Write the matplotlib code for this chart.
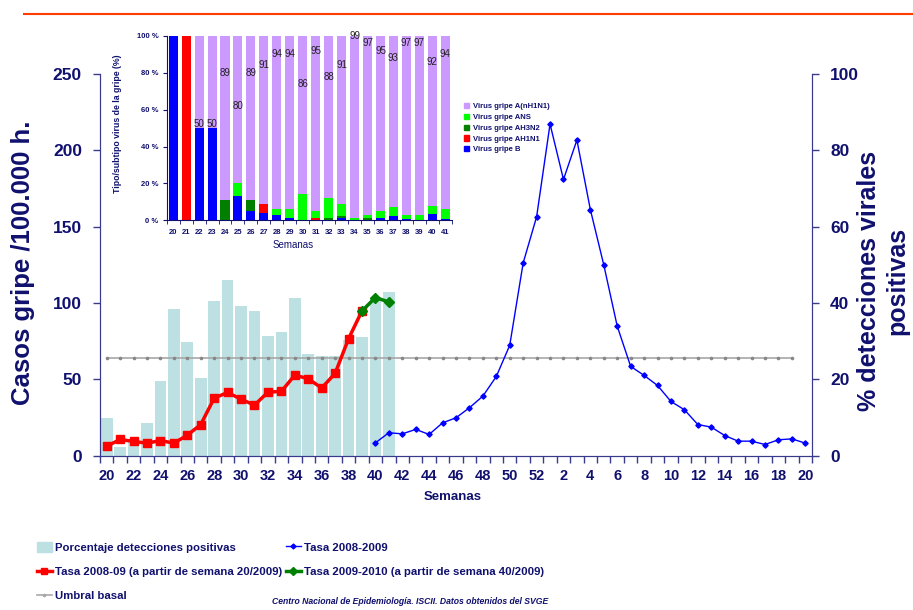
import matplotlib
matplotlib.use('Agg')
import matplotlib.pyplot as plt
import matplotlib.patches as mpatches
from matplotlib.lines import Line2D
import numpy as np

plt.rcParams['font.family'] = ['Liberation Sans', 'DejaVu Sans']
NAVY = '#10106e'
SPINE = '#3a3a8c'

# main x axis: weeks 20..52 (2008) then 1..20 (2009)
weeks = list(range(20, 53)) + list(range(1, 21))

# % positive detections (right axis), weeks 20-41
pct_positive = [9.8, 2.2, 4.3, 8.5, 19.4, 38.5, 29.7, 20.3, 40.6, 46.0, 39.3,
                38.0, 31.4, 32.3, 41.4, 26.5, 26.2, 26.2, 30.2, 31.0, 41.0, 42.9]

# rate 2008-09 from week 20/2009 (weeks 20-39)
rate_2009 = [6.1, 10.5, 9.2, 8.1, 9.8, 8.1, 13.3, 20.3, 37.6, 41.3, 36.9, 33.0,
             41.5, 42.0, 52.7, 50.3, 44.2, 53.8, 76.5, 94.7]

# rate 2009-2010 (weeks 39-41)
rate_2010 = [94.7, 103.5, 100.6]

# rate 2008-2009 season (weeks 40..52, 1..20)
rate_season = [8.3, 14.9, 14.2, 17.1, 13.8, 21.4, 24.7, 31.3, 38.9, 51.8, 72.2,
               126.2, 156.4, 217.2, 180.9, 206.7, 161.2, 124.9, 84.8, 58.4, 52.5,
               45.9, 35.4, 30.0, 20.3, 18.6, 13.1, 9.4, 9.4, 7.2, 10.3, 10.9, 8.1]

umbral = 64.0

# inset: virus type / subtype (%), weeks 20-41
inset_weeks = list(range(20, 42))
virus_b = [100, 0, 50, 50, 0, 13, 5, 4, 3, 1, 0, 0, 0, 1.5, 0, 0, 1, 2.5, 0.5, 0, 3.5, 0.5]
virus_ah1n1 = [0, 100, 0, 0, 0, 0, 0, 5, 0, 0, 0, 1, 0, 0, 0, 0, 0, 0, 0, 0, 0, 0]
virus_ah3n2 = [0, 0, 0, 0, 11, 0, 6, 0, 0, 0, 0, 0, 1, 1, 0, 1.5, 0, 0, 0, 0, 0, 0]
virus_ans = [0, 0, 0, 0, 0, 7, 0, 0, 3, 5, 14, 4, 11, 6.5, 1, 1.5, 4, 4.5, 2.5, 3, 4.5, 5.5]
virus_pandemic = [0, 0, 50, 50, 89, 80, 89, 91, 94, 94, 86, 95, 88, 91, 99, 97, 95, 93,
                  97, 97, 92, 94]

fig = plt.figure(figsize=(9.13, 6.10), dpi=100)

# ---- main chart ----
x = np.arange(len(weeks))
ax = fig.add_axes([100 / 913, 1 - 455.5 / 610, 712 / 913, 381.5 / 610])
ax.bar(x[:len(pct_positive)], pct_positive, width=0.87, color='#bde0e3', edgecolor='none')
ax.set_ylim(0, 100)
ax.set_xlim(-0.5, len(weeks) - 0.5)

ax2 = ax.twinx()
ax2.set_ylim(0, 250)
n_red = len(rate_2009)
ax2.plot(x[:52], [umbral] * 52, color='#a8a8a8', lw=1.2, marker='o', ms=1.6,
         mfc='#888888', mec='#888888')
ax2.plot(x[20:], rate_season, color='#0000ff', lw=1.0, marker='D', ms=2.7)
ax2.plot(x[:n_red], rate_2009, color='#ff0000', lw=2.5, marker='s', ms=6)
ax2.plot(x[n_red - 1:n_red - 1 + len(rate_2010)], rate_2010, color='#008000', lw=2.5,
         marker='D', ms=5)

ax.yaxis.tick_right()
ax2.yaxis.tick_left()
for a in (ax, ax2):
    a.spines['top'].set_visible(False)
    for s in ('left', 'right', 'bottom'):
        a.spines[s].set_color(SPINE)

ax.set_yticks(range(0, 101, 20))
ax2.set_yticks(range(0, 251, 50))
ax.tick_params(axis='y', length=5, width=1, color=SPINE, pad=8, labelsize=12.5,
               labelcolor=NAVY)
ax2.tick_params(axis='y', length=5, width=1, color=SPINE, pad=8, labelsize=12.5,
                labelcolor=NAVY)
for lab in ax.get_yticklabels() + ax2.get_yticklabels():
    lab.set_fontweight('bold')

ax.set_xticks(x[::2], labels=[str(w) for w in weeks[::2]])
ax.set_xticks(np.arange(-0.5, len(weeks)), minor=True)
ax.tick_params(axis='x', which='major', length=0, pad=10, labelsize=10.5, labelcolor=NAVY)
ax.tick_params(axis='x', which='minor', length=5, width=1, color=SPINE)
for lab in ax.get_xticklabels():
    lab.set_fontweight('bold')

fig.text(23 / 913, 1 - 263 / 610, 'Casos gripe /100.000 h.', rotation=90, ha='center',
         va='center', fontsize=18.5, fontweight='bold', color=NAVY)
fig.text(883 / 913, 1 - 281 / 610, '% detecciones virales\npositivas', rotation=90,
         ha='center', va='center', multialignment='center', fontsize=18,
         fontweight='bold', color=NAVY, linespacing=1.2)
fig.text(453 / 913, 1 - 497 / 610, 'Semanas', ha='center', va='center', fontsize=9.5,
         fontweight='bold', color=NAVY)

# ---- inset ----
xi = np.arange(len(inset_weeks))
axi = fig.add_axes([166.7 / 913, 1 - 220.3 / 610, 285 / 913, 184.3 / 610])
stack = [(virus_b, '#0000ff', 'Virus gripe B'),
         (virus_ah1n1, '#ff0000', 'Virus gripe AH1N1'),
         (virus_ah3n2, '#007f00', 'Virus gripe AH3N2'),
         (virus_ans, '#00ff00', 'Virus gripe ANS'),
         (virus_pandemic, '#cc99ff', 'Virus gripe A(nH1N1)')]
bottom = np.zeros(len(inset_weeks))
for vals, col, name in stack:
    axi.bar(xi, vals, bottom=bottom, width=0.7, color=col, edgecolor='none')
    bottom += np.array(vals)
for i, v in enumerate(virus_pandemic):
    if v > 0:
        axi.text(xi[i], max(2 * v - 100, 50) + 2, str(v), ha='center', va='center',
                 fontsize=7, color='#222222')
axi.set_xlim(-0.5, len(inset_weeks) - 0.5)
axi.set_ylim(0, 100)
axi.spines['top'].set_visible(False)
axi.spines['right'].set_visible(False)
axi.spines['left'].set_color(NAVY)
axi.spines['bottom'].set_color(NAVY)
axi.set_yticks(range(0, 101, 20), labels=[f'{v} %' for v in range(0, 101, 20)])
axi.set_xticks(xi, labels=[str(w) for w in inset_weeks])
axi.set_xticks(np.arange(-0.5, len(inset_weeks)), minor=True)
axi.tick_params(axis='y', length=3, color=NAVY, pad=3, labelsize=5.5, labelcolor=NAVY)
axi.tick_params(axis='x', which='major', length=0, pad=6, labelsize=5.5, labelcolor=NAVY)
axi.tick_params(axis='x', which='minor', length=3, color=NAVY)
for lab in axi.get_xticklabels() + axi.get_yticklabels():
    lab.set_fontweight('bold')
fig.text(117 / 913, 1 - 124 / 610, 'Tipo/subtipo virus de la gripe (%)', rotation=90,
         ha='center', va='center', fontsize=6.3, fontweight='bold', color=NAVY)
fig.text(293 / 913, 1 - 245 / 610, 'Semanas', ha='center', va='center', fontsize=7,
         color=NAVY)

inset_handles = [mpatches.Patch(color=c, label=n) for _, c, n in stack[::-1]]
axi.legend(handles=inset_handles, loc='upper left', bbox_to_anchor=(464 / 913, 1 - 103 / 610),
           bbox_transform=fig.transFigure, frameon=False, handlelength=0.7,
           handleheight=0.7, handletextpad=0.5, labelspacing=0.45, borderpad=0,
           borderaxespad=0, labelcolor=NAVY,
           prop=dict(weight='bold', size=5.5))

# ---- bottom legend ----
leg_prop = dict(weight='bold', size=8.2)
h_bar = mpatches.Patch(color='#bde0e3', label='Porcentaje detecciones positivas')
h_red = Line2D([], [], color='#ff0000', lw=2.5, marker='s', ms=5,
               label='Tasa 2008-09 (a partir de semana 20/2009)')
h_umb = Line2D([], [], color='#a8a8a8', lw=1.2, marker='o', ms=1.6, label='Umbral basal')
h_blue = Line2D([], [], color='#0000ff', lw=1, marker='D', ms=2.5, label='Tasa 2008-2009')
h_green = Line2D([], [], color='#008000', lw=2.5, marker='D', ms=4,
                 label='Tasa 2009-2010 (a partir de semana 40/2009)')
leg_kw = dict(loc='upper left', frameon=False, handlelength=1.35, handleheight=1.05,
              handletextpad=0.25, labelspacing=1.15, borderpad=0, labelcolor=NAVY,
              prop=leg_prop)
fig.legend(handles=[h_bar, h_red, h_umb], bbox_to_anchor=(31 / 913, 1 - 536 / 610), **leg_kw)
fig.legend(handles=[h_blue, h_green], bbox_to_anchor=(280 / 913, 1 - 536 / 610), **leg_kw)

fig.text(272 / 913, 1 - 601 / 610,
         'Centro Nacional de Epidemiología. ISCII. Datos obtenidos del SVGE',
         ha='left', va='center', fontsize=6.2, style='italic', fontweight='bold',
         color=NAVY)

fig.add_artist(Line2D([24 / 913, 1], [1 - 14 / 610, 1 - 14 / 610], color='#ff3d00', lw=1.5))

fig.savefig('out.png', dpi=100)
